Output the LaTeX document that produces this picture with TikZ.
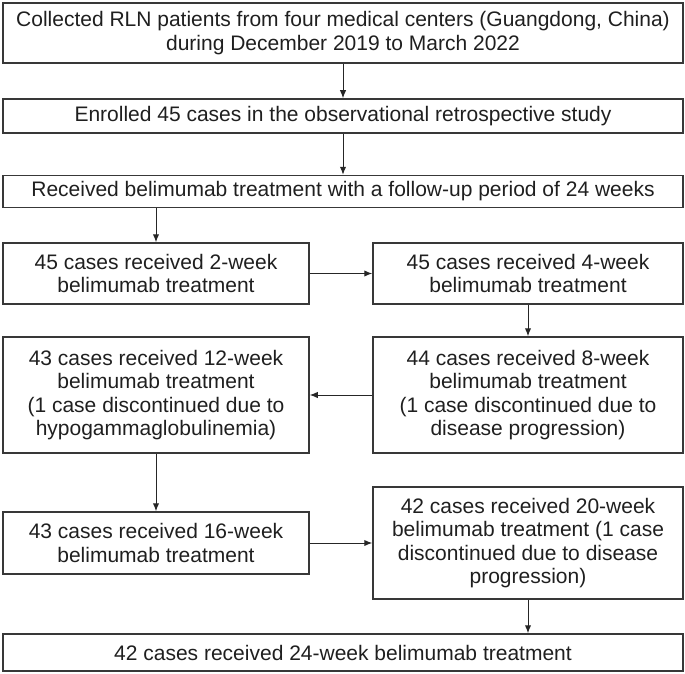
\documentclass[tikz,border=0pt]{standalone}
\usepackage{fontspec}
\setmainfont{Liberation Sans}
\usepackage{tikz}
\usetikzlibrary{arrows.meta}

\begin{document}
\begin{tikzpicture}[x=0.5pt, y=-0.5pt, line join=miter,
        box/.style={draw=black!78, line width=0.75pt, align=center, inner sep=0pt,
            text=black!88, font=\fontsize{10.5}{11.7}\selectfont},
        wide/.style={box, minimum width=340pt},
        half/.style={box, minimum width=153pt},
        halfr/.style={box, minimum width=155pt},
        arr/.style={draw=black!85, line width=0.5pt, -{Latex[length=4pt,width=3.2pt]}}]
            \useasboundingbox (0,0) rectangle (685,674);

            \node[wide, minimum height=30pt] (Col) at (343,33) {Collected RLN patients from four medical centers (Guangdong, China)\\during December 2019 to March 2022};
            \node[wide, minimum height=17pt] (Enr) at (343,116) {Enrolled 45 cases in the observational retrospective study};
            \node[wide, minimum height=16pt] (Rec) at (343,191.5) {Received belimumab treatment with a follow-up period of 24 weeks};
            \node[half, minimum height=30.5pt] (W2) at (156,273.5) {45 cases received 2-week\\belimumab treatment};
            \node[halfr, minimum height=30.5pt] (W4) at (528,273.5) {45 cases received 4-week\\belimumab treatment};
            \node[halfr, minimum height=58pt] (W8) at (528,395) {44 cases received 8-week\\belimumab treatment\\(1 case discontinued due to\\disease progression)};
            \node[half, minimum height=58pt] (W12) at (156,395) {43 cases received 12-week\\belimumab treatment\\(1 case discontinued due to\\hypogammaglobulinemia)};
            \node[half, minimum height=31pt] (W16) at (156,543) {43 cases received 16-week\\belimumab treatment};
            \node[halfr, minimum height=56pt] (W20) at (528,543) {42 cases received 20-week\\belimumab treatment (1 case\\discontinued due to disease\\progression)};
            \node[wide, minimum height=18.5pt] (W24) at (343,652.5) {42 cases received 24-week belimumab treatment};

            \draw[arr] (Col) -- (Enr);
            \draw[arr] (Enr) -- (Rec);
            \draw[arr] (Rec.south -| W2) -- (W2);
            \draw[arr] (W2) -- (W4);
            \draw[arr] (W4) -- (W8);
            \draw[arr] (W8) -- (W12);
            \draw[arr] (W12) -- (W16);
            \draw[arr] (W16) -- (W20);
            \draw[arr] (W20) -- (W24.north -| W20);
        \end{tikzpicture}
\end{document}
